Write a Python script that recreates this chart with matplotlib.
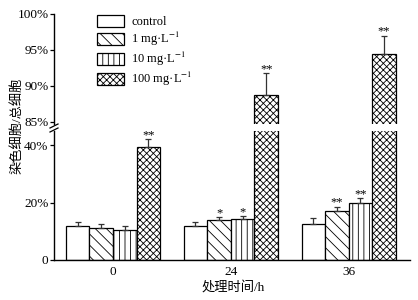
import matplotlib
matplotlib.use("Agg")
import matplotlib.pyplot as plt
import numpy as np
from matplotlib.lines import Line2D

plt.rcParams['font.family'] = ['Liberation Serif', 'Noto Sans CJK SC']
plt.rcParams['mathtext.fontset'] = 'stix'
plt.rcParams['hatch.linewidth'] = 0.6
plt.rcParams['hatch.color'] = '#222222'

# data (percent of stained cells)
times = ['0', '24', '36']
series = ['control', '1 mg·L$^{-1}$', '10 mg·L$^{-1}$', '100 mg·L$^{-1}$']
control = [11.9, 12.0, 12.6]
control_err = [1.4, 1.3, 2.0]
mg1 = [11.2, 14.0, 17.2]
mg1_err = [1.3, 1.0, 1.4]
mg10 = [10.5, 14.4, 20.0]
mg10_err = [1.4, 1.0, 1.7]
mg100 = [39.3, 88.8, 94.5]
mg100_err = [2.8, 3.0, 2.5]
sig_control = ['', '', '']
sig_mg1 = ['', '*', '**']
sig_mg10 = ['', '*', '**']
sig_mg100 = ['**', '**', '**']

values = [control, mg1, mg10, mg100]
errors = [control_err, mg1_err, mg10_err, mg100_err]
sigs = [sig_control, sig_mg1, sig_mg10, sig_mg100]
hatches = ['', '\\\\\\', '|||', 'xxxxx']

fig = plt.figure(figsize=(4.18, 3.00), dpi=100)
W, H = 418, 300
left = 54 / W
right = 410 / W
ax_lo = fig.add_axes([left, 1 - 260 / H, right - left, (260 - 131) / H])
ax_hi = fig.add_axes([left, 1 - 124 / H, right - left, (124 - 14) / H])

x = np.arange(len(times))
width = 0.2
for ax in (ax_lo, ax_hi):
    for i in range(4):
        pos = x + (i - 1.5) * width
        ax.bar(pos, values[i], width, color='white', edgecolor='black',
               linewidth=0.9, hatch=hatches[i], label=series[i], zorder=2)
        ax.errorbar(pos, values[i], yerr=[np.zeros(3), errors[i]], fmt='none',
                    ecolor='#333333', elinewidth=0.9, capsize=2.5, capthick=0.9,
                    zorder=3)
        for j in range(3):
            if sigs[i][j]:
                ax.annotate(sigs[i][j], (pos[j], values[i][j] + errors[i][j]),
                            xytext=(0, -1.5), textcoords='offset points',
                            ha='center', va='bottom', fontsize=9,
                            annotation_clip=True)
    ax.set_xlim(-0.5, 2.52)
    ax.spines['top'].set_visible(False)
    ax.spines['right'].set_visible(False)
    ax.tick_params(axis='y', direction='out', length=3, width=0.9,
                   labelsize=9.5, pad=1)
    ax.spines['left'].set_linewidth(1.0)

ax_lo.set_ylim(0, 45)
ax_lo.set_yticks([0, 20, 40])
ax_lo.set_yticklabels(['0', '20%', '40%'])
ax_lo.set_xticks(x)
ax_lo.set_xticklabels(times)
ax_lo.tick_params(axis='x', length=0, labelsize=9.5, pad=4)
ax_lo.spines['bottom'].set_linewidth(1.0)

ax_hi.set_ylim(84.7, 100)
ax_hi.set_yticks([85, 90, 95, 100])
ax_hi.set_yticklabels(['85%', '90%', '95%', '100%'])
ax_hi.spines['bottom'].set_visible(False)
ax_hi.set_xticks([])

# break marks on the y axis
for yb in (126, 130):
    fig.add_artist(Line2D([50 / W, 58 / W], [1 - (yb + 2) / H, 1 - (yb - 2) / H],
                          color='black', linewidth=0.9))

handles, labels = ax_hi.get_legend_handles_labels()
fig.legend(handles[:4], labels[:4], loc='upper left',
           bbox_to_anchor=(97 / W, 1 - 15 / H), frameon=False, fontsize=9,
           handlelength=2.15, handleheight=1.05, handletextpad=0.6,
           labelspacing=0.15, borderpad=0, borderaxespad=0)

fig.text(17 / W, 1 - 126 / H, '染色细胞/总细胞', rotation=90, ha='center',
         va='center', fontsize=9.5)
fig.text(233 / W, 1 - 287 / H, '处理时间/h', ha='center', va='center',
         fontsize=9.5)

fig.savefig('out.png', dpi=100)
